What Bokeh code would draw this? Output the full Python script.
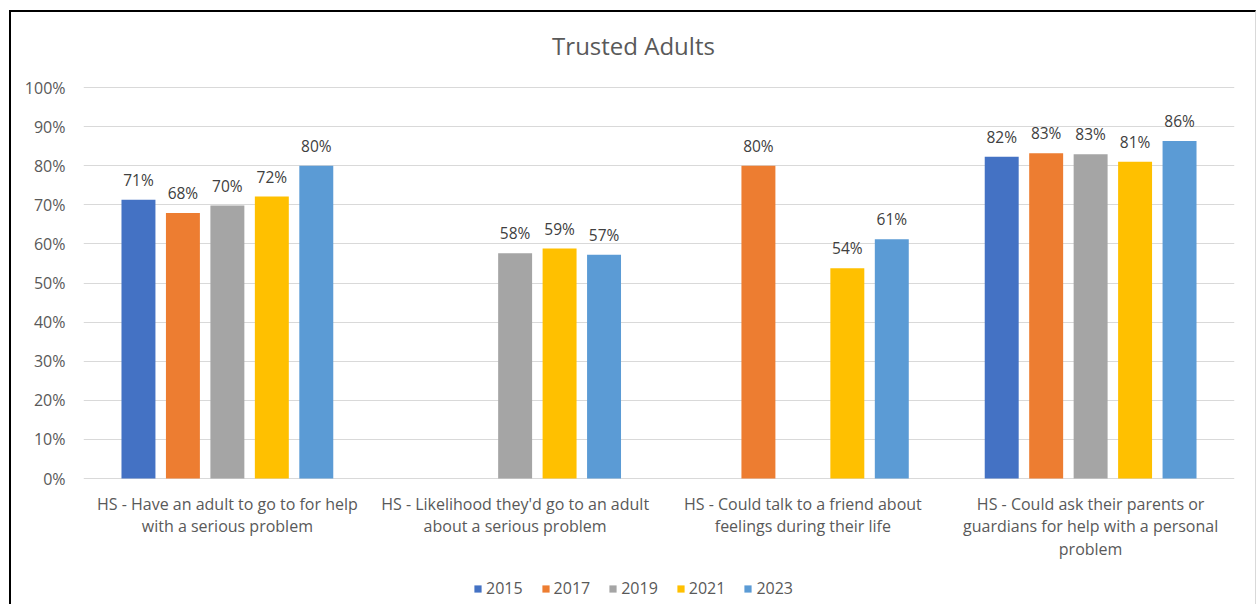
from bokeh.plotting import figure
from bokeh.models import (ColumnDataSource, FactorRange, Range1d, Legend, LegendItem,
                          LabelSet, Label, NumeralTickFormatter, FixedTicker)
from bokeh.core.properties import value
from bokeh.transform import dodge
from bokeh.embed import file_html
from bokeh.resources import INLINE

categories = [
    "HS - Have an adult to go to for help\nwith a serious problem",
    "HS - Likelihood they'd go to an adult\nabout a serious problem",
    "HS - Could talk to a friend about\nfeelings during their life",
    "HS - Could ask their parents or\nguardians for help with a personal\nproblem",
]
years = ["2015", "2017", "2019", "2021", "2023"]
v2015 = [0.713, None, None, 0.823]
v2017 = [0.679, None, 0.800, 0.832]
v2019 = [0.698, 0.576, None, 0.829]
v2021 = [0.721, 0.588, 0.538, 0.810]
v2023 = [0.800, 0.572, 0.612, 0.863]
series = [v2015, v2017, v2019, v2021, v2023]
colors = ["#4472C4", "#ED7D31", "#A5A5A5", "#FFC000", "#5B9BD5"]

FONT = "Open Sans"
FS = "16px"
TXT = "#595959"

# plot area: 391 px per 100%; extra room above for the title, below for labels + legend
PX = 391.0
ABOVE = 75
BELOW = 126
p = figure(x_range=FactorRange(*categories, range_padding=0),
           y_range=Range1d(-BELOW / PX, 1 + ABOVE / PX),
           frame_width=1151, frame_height=391 + BELOW + ABOVE, output_backend="svg",
           toolbar_location=None,
           min_border_left=72, min_border_right=21, min_border_top=0, min_border_bottom=0)
p.styles = {"margin-left": "9px", "margin-top": "10px",
            "border-left": "2px solid #000000", "border-top": "2px solid #000000",
            "border-right": "1px solid #D9D9D9"}
p.outline_line_color = None
p.background_fill_color = "white"
p.border_fill_color = "white"

p.yaxis.ticker = FixedTicker(ticks=[i / 10 for i in range(11)])
p.yaxis.formatter = NumeralTickFormatter(format="0%")
p.yaxis.axis_line_color = None
p.yaxis.major_tick_line_color = None
p.yaxis.minor_tick_line_color = None
p.yaxis.major_label_standoff = 12
p.yaxis.major_label_text_font = FONT
p.yaxis.major_label_text_font_size = FS
p.yaxis.major_label_text_color = TXT

p.xaxis.visible = False
p.xgrid.grid_line_color = None
p.ygrid.grid_line_color = "#D9D9D9"
p.ygrid.grid_line_width = 1

# chart title
title = Label(x=550, y=BELOW + 391 + ABOVE - 33, x_units="screen", y_units="screen",
              text="Trusted Adults", text_align="center", text_baseline="middle",
              text_font=FONT, text_font_size="24px", text_color=TXT)
p.add_layout(title)

# category labels under the 0% line
cat_src = ColumnDataSource(dict(x=categories, y=[-14 / PX] * len(categories)))
p.text(x="x", y="y", text="x", source=cat_src, text_align="center", text_baseline="top",
       text_font=value(FONT), text_font_size=value(FS), text_color=TXT,
       text_line_height=1.04)

step = 0.1545
items = []
for i, (yr, vals, col) in enumerate(zip(years, series, colors)):
    xs = [c for c, v in zip(categories, vals) if v is not None]
    ys = [v for v in vals if v is not None]
    labs = [f"{round(v * 100)}%" for v in ys]
    src = ColumnDataSource(dict(x=xs, y=ys, lab=labs))
    off = (i - 2) * step
    r = p.vbar(x=dodge("x", off, range=p.x_range), top="y", width=0.118, source=src,
               fill_color=col, line_color=None)
    items.append(LegendItem(label=yr, renderers=[r]))
    ls = LabelSet(x=dodge("x", off, range=p.x_range), y="y", text="lab", source=src,
                  text_align="center", text_baseline="bottom", y_offset=9,
                  text_font=value(FONT), text_font_size=value("15.5px"), text_color="#404040")
    p.add_layout(ls)

legend = Legend(items=items, orientation="horizontal", location=(390, 5),
                label_text_font=FONT, label_text_font_size=FS, label_text_color=TXT,
                glyph_width=9, glyph_height=9, spacing=18, label_standoff=4,
                border_line_color=None, background_fill_alpha=0, margin=0, padding=2)
p.add_layout(legend)

open("out.html", "w").write(file_html(p, INLINE))
